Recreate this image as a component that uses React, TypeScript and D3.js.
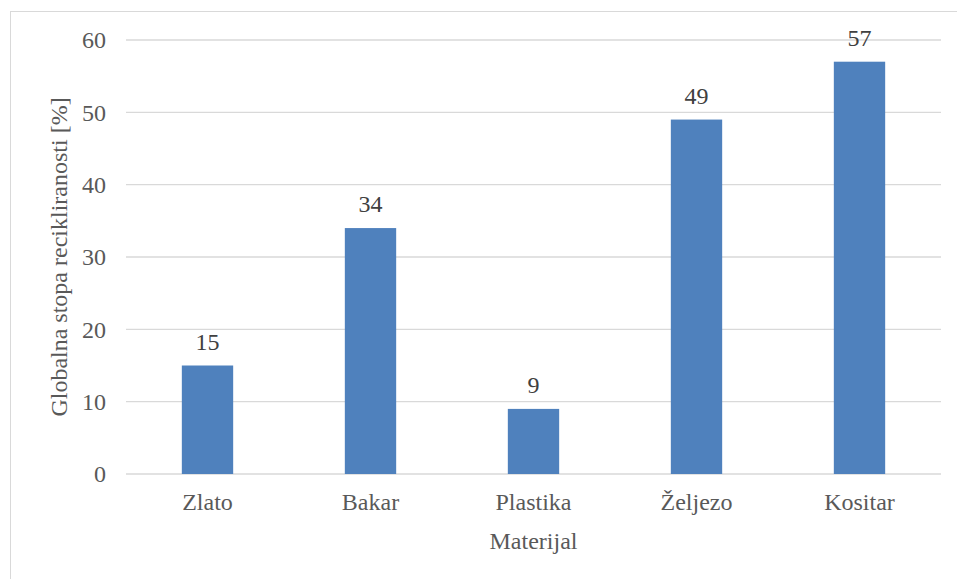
import * as d3 from "d3";

const materials = ["Zlato", "Bakar", "Plastika", "Željezo", "Kositar"];
const rates = [15, 34, 9, 49, 57];
const yTicks = [0, 10, 20, 30, 40, 50, 60];

const W = 957;
const H = 579;
const left = 126;
const right = 941;
const top = 40;
const bottom = 474;
const font = "'Liberation Serif', 'Times New Roman', serif";
const fs = 24;

const x = d3.scaleBand().domain(materials).range([left, right]).paddingInner(0.685).paddingOuter(0.3425);
const y = d3.scaleLinear().domain([0, 60]).range([bottom, top]);

export default function App() {
  const txt = { fontFamily: font, fontSize: fs };
  return (
    <svg width={W} height={H} style={{ position: "absolute", left: 0, top: 0, display: "block" }}>
      <rect x={10.5} y={11.5} width={W} height={H} fill="white" stroke="#d9d9d9" />
      {/* gridlines */}
      {yTicks.map((t) => (
        <line key={t} x1={left} x2={right} y1={y(t)} y2={y(t)} stroke="#d9d9d9" strokeWidth={1.3} />
      ))}
      {/* y tick labels */}
      {yTicks.map((t) => (
        <text key={t} x={106} y={y(t)} dy="0.35em" textAnchor="end" fill="#595959" style={txt}>
          {t}
        </text>
      ))}
      {/* bars + value labels */}
      {rates.map((v, i) => {
        const bx = x(materials[i])!;
        return (
          <g key={materials[i]}>
            <rect x={bx} y={y(v)} width={x.bandwidth()} height={y(0) - y(v)} fill="#4f81bd" />
            <text x={bx + x.bandwidth() / 2} y={y(v) - 16} textAnchor="middle" fill="#404040" style={txt}>
              {v}
            </text>
          </g>
        );
      })}
      {/* category labels */}
      {materials.map((m) => (
        <text key={m} x={x(m)! + x.bandwidth() / 2} y={510} textAnchor="middle" fill="#595959" style={txt}>
          {m}
        </text>
      ))}
      <text x={(left + right) / 2} y={549} textAnchor="middle" fill="#595959" style={txt}>
        Materijal
      </text>
      <text
        transform={`translate(67, ${(top + bottom) / 2}) rotate(-90)`}
        textAnchor="middle"
        fill="#595959"
        style={txt}
      >
        Globalna stopa recikliranosti [%]
      </text>
    </svg>
  );
}
